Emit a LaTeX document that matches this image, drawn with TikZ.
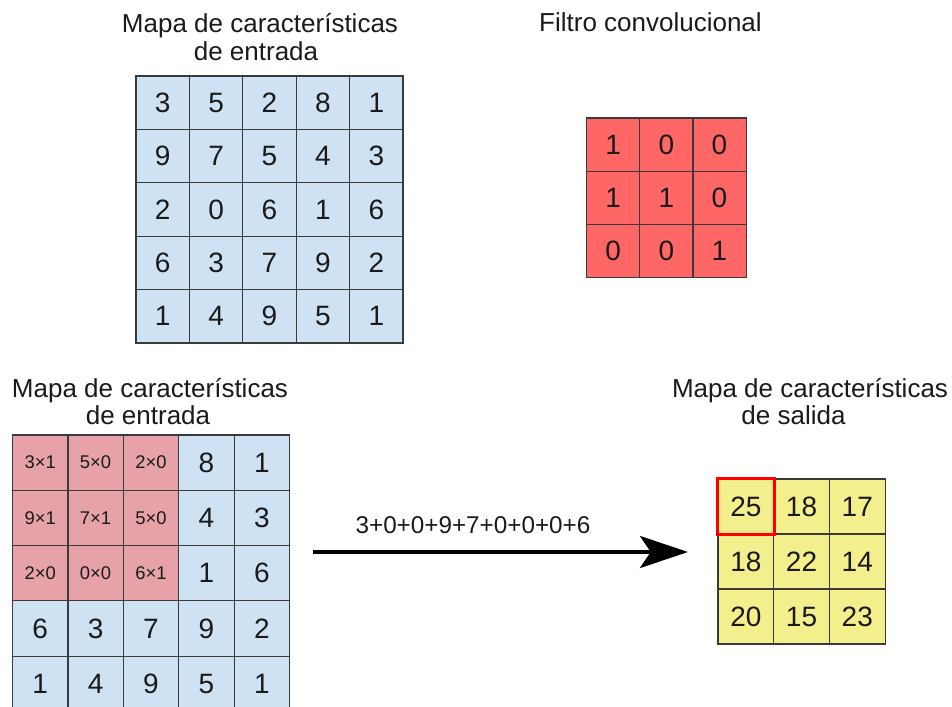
\documentclass[tikz,border=0pt]{standalone}
\usepackage{fontspec}
\setmainfont{Liberation Sans}
\usetikzlibrary{arrows.meta}
\definecolor{cblue}{HTML}{CFE2F3}
\definecolor{cred}{HTML}{FF6666}
\definecolor{cpink}{HTML}{E6A1A9}
\definecolor{cyel}{HTML}{F3EF8C}
\definecolor{cline}{HTML}{3A3A3A}
\definecolor{ctext}{HTML}{1A1A1A}
\begin{document}
\begin{tikzpicture}[x=0.75pt,y=-0.75pt,
  cellbox/.style={draw=cline, line width=0.9pt, inner sep=0pt, text=ctext,
    font=\fontsize{21pt}{24pt}\selectfont},
  smallcell/.style={cellbox, font=\fontsize{13.8pt}{16pt}\selectfont},
  titletext/.style={anchor=base, inner sep=0pt, text=ctext,
    font=\fontsize{19.5pt}{23pt}\selectfont},
  lbltext/.style={anchor=base, inner sep=0pt, text=ctext,
    font=\fontsize{18.2pt}{22pt}\selectfont}]
\path[use as bounding box] (0,0) rectangle (952,706);
\clip (0,0) rectangle (952,706);

% titles
\node[titletext] (t1a) at (260,33) {Mapa de características};
\node[titletext] (t1b) at (256,60.5) {de entrada};
\node[titletext] (t2) at (650.5,32) {Filtro convolucional};
\node[titletext] (t3a) at (150,397) {Mapa de características};
\node[titletext] (t3b) at (148,424) {de entrada};
\node[titletext] (t4a) at (810,397) {Mapa de características};
\node[titletext] (t4b) at (793.5,424) {de salida};

% top input grid
\foreach \row [count=\r from 0] in {{3,5,2,8,1},{9,7,5,4,3},{2,0,6,1,6},{6,3,7,9,2},{1,4,9,5,1}} {
  \foreach \v [count=\c from 0] in \row {
    \node[cellbox, fill=cblue, minimum width=40.05pt, minimum height=40.05pt]
      (a-\r-\c) at (136+26.7+53.4*\c, 76+26.7+53.4*\r) {\v};
  }
}

% filter
\foreach \row [count=\r from 0] in {{1,0,0},{1,1,0},{0,0,1}} {
  \foreach \v [count=\c from 0] in \row {
    \node[cellbox, fill=cred, minimum width=39.9pt, minimum height=39.9pt]
      (f-\r-\c) at (586.5+26.6+53.2*\c, 118+26.6+53.2*\r) {\v};
  }
}

% bottom input grid: pink part
\foreach \row [count=\r from 0] in {{3×1,5×0,2×0},{9×1,7×1,5×0},{2×0,0×0,6×1}} {
  \foreach \v [count=\c from 0] in \row {
    \node[smallcell, fill=cpink, minimum width=41.55pt, minimum height=41.5pt]
      (b-\r-\c) at (12.5+27.7+55.4*\c, 435+27.65+55.3*\r) {\v};
  }
}
% bottom input grid: blue right part
\foreach \row [count=\r from 0] in {{8,1},{4,3},{1,6}} {
  \foreach \v [count=\c from 3] in \row {
    \node[cellbox, fill=cblue, minimum width=41.55pt, minimum height=41.5pt]
      (b-\r-\c) at (12.5+27.7+55.4*\c, 435+27.65+55.3*\r) {\v};
  }
}
% bottom input grid: blue lower rows
\foreach \row [count=\r from 3] in {{6,3,7,9,2},{1,4,9,5,1}} {
  \foreach \v [count=\c from 0] in \row {
    \node[cellbox, fill=cblue, minimum width=41.55pt, minimum height=41.5pt]
      (b-\r-\c) at (12.5+27.7+55.4*\c, 435+27.65+55.3*\r) {\v};
  }
}

% output grid
\foreach \row [count=\r from 0] in {{25,18,17},{18,22,14},{20,15,23}} {
  \foreach \v [count=\c from 0] in \row {
    \node[cellbox, fill=cyel, minimum width=41.8pt, minimum height=41.25pt]
      (o-\r-\c) at (718+27.85+55.7*\c, 479+27.5+55*\r) {\v};
  }
}
\draw[red, line width=2.4pt] (o-0-0.north west) rectangle (o-0-0.south east);

% arrow
\coordinate (as) at (313,552);
\coordinate (ae) at (688,552);
\draw[line width=3pt, -{Stealth[length=36pt,width=24pt,inset=8pt]}] (as) -- (ae);
\node[lbltext] (lbl) at (473,533) {3+0+0+9+7+0+0+0+6};
\end{tikzpicture}
\end{document}
